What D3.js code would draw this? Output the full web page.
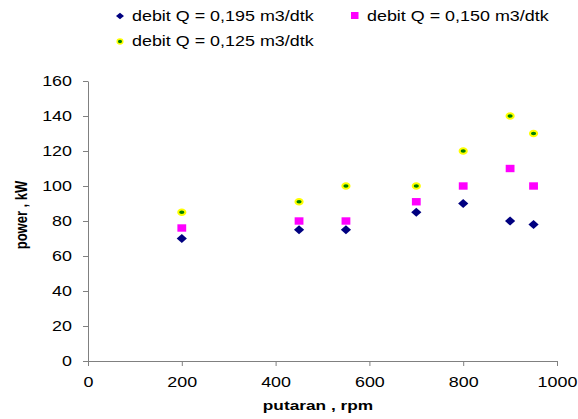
<!DOCTYPE html>
<html>
<head>
<meta charset="utf-8">
<script src="https://cdn.jsdelivr.net/npm/d3@7"></script>
<style>
  body { margin: 0; background: #fff; }
  text { font-family: "Liberation Sans", Arial, sans-serif; }
</style>
</head>
<body>
<script>
// rpm values (x) and power for each flow rate
var putaran = [200, 450, 550, 700, 800, 900, 950];
var q195 = [70, 75, 75, 85, 90, 80, 78];
var q150 = [76, 80, 80, 91, 100, 110, 100];
var q125 = [85, 91, 100, 100, 120, 140, 130];
var xTicks = [0, 200, 400, 600, 800, 1000];
var yTicks = [0, 20, 40, 60, 80, 100, 120, 140, 160];
var seriesNames = ['debit  Q = 0,195 m3/dtk', 'debit  Q = 0,150 m3/dtk', 'debit  Q = 0,125 m3/dtk'];

// the original picture is a bit wider than tall, so text is stretched sideways
var SX = 1.28;

var svg = d3.select('body').append('svg')
    .attr('width', 578).attr('height', 419);

var x = d3.scaleLinear().domain([0, 1000]).range([88, 557]);
var y = d3.scaleLinear().domain([0, 160]).range([361, 81]);

// axes
var xAxis = svg.append('g').attr('transform', 'translate(0,361)')
    .call(d3.axisBottom(x).tickValues(xTicks).tickFormat(d3.format('d'))
        .tickSize(5).tickSizeOuter(0).tickPadding(11));
var yAxis = svg.append('g').attr('transform', 'translate(88,0)')
    .call(d3.axisLeft(y).tickValues(yTicks).tickSize(5).tickSizeOuter(0).tickPadding(7.5));
[xAxis, yAxis].forEach(function (a) {
    a.select('.domain').attr('stroke', '#808080');
    a.selectAll('.tick line').attr('stroke', '#808080');
    a.selectAll('.tick text').attr('font-size', 14).attr('fill', '#000')
        .attr('transform', 'scale(' + SX + ',1)')
        .style('font-family', '"Liberation Sans", Arial, sans-serif');
});

// axis titles
svg.append('text').attr('transform', 'translate(318,410) scale(' + SX + ',1)')
    .attr('text-anchor', 'middle')
    .attr('font-size', 13.5).attr('font-weight', 'bold').text('putaran , rpm');
svg.append('text').attr('transform', 'translate(27,215) scale(' + SX + ',1) rotate(-90)')
    .attr('text-anchor', 'middle')
    .attr('font-size', 13).attr('font-weight', 'bold').text('power , kW');

// series 0.195 - diamonds
svg.append('g').selectAll('path').data(putaran).join('path')
    .attr('transform', function (d, i) {
        return 'translate(' + x(d) + ',' + y(q195[i]) + ') scale(1.13,1)';
    })
    .attr('d', d3.symbol().type(d3.symbolDiamond2).size(52))
    .attr('fill', '#000080');

// series 0.150 - squares
svg.append('g').selectAll('rect').data(putaran).join('rect')
    .attr('x', function (d) { return x(d) - 4.4; })
    .attr('y', function (d, i) { return y(q150[i]) - 3.7; })
    .attr('width', 8.8).attr('height', 7.4)
    .attr('fill', '#ff00ff');

// series 0.125 - circles (slightly wide)
svg.append('g').selectAll('ellipse').data(putaran).join('ellipse')
    .attr('cx', function (d) { return x(d); })
    .attr('cy', function (d, i) { return y(q125[i]); })
    .attr('rx', 3.6).attr('ry', 2.7)
    .attr('fill', '#008000')
    .attr('stroke', '#ffff00').attr('stroke-width', 2);

// legend
var legend = svg.append('g');
legend.append('path').attr('transform', 'translate(120,16) scale(1.2,1)')
    .attr('d', d3.symbol().type(d3.symbolDiamond2).size(28)).attr('fill', '#000080');
legend.append('text').attr('transform', 'translate(132,21) scale(' + SX + ',1)')
    .attr('font-size', 14).text(seriesNames[0]);
legend.append('rect').attr('x', 351).attr('y', 12).attr('width', 7.5).attr('height', 7).attr('fill', '#ff00ff');
legend.append('text').attr('transform', 'translate(367,21) scale(' + SX + ',1)')
    .attr('font-size', 14).text(seriesNames[1]);
legend.append('ellipse').attr('cx', 120).attr('cy', 41.5).attr('rx', 2.8).attr('ry', 2.4)
    .attr('fill', '#008000').attr('stroke', '#ffff00').attr('stroke-width', 1.5);
legend.append('text').attr('transform', 'translate(132,46) scale(' + SX + ',1)')
    .attr('font-size', 14).text(seriesNames[2]);
</script>
</body>
</html>
